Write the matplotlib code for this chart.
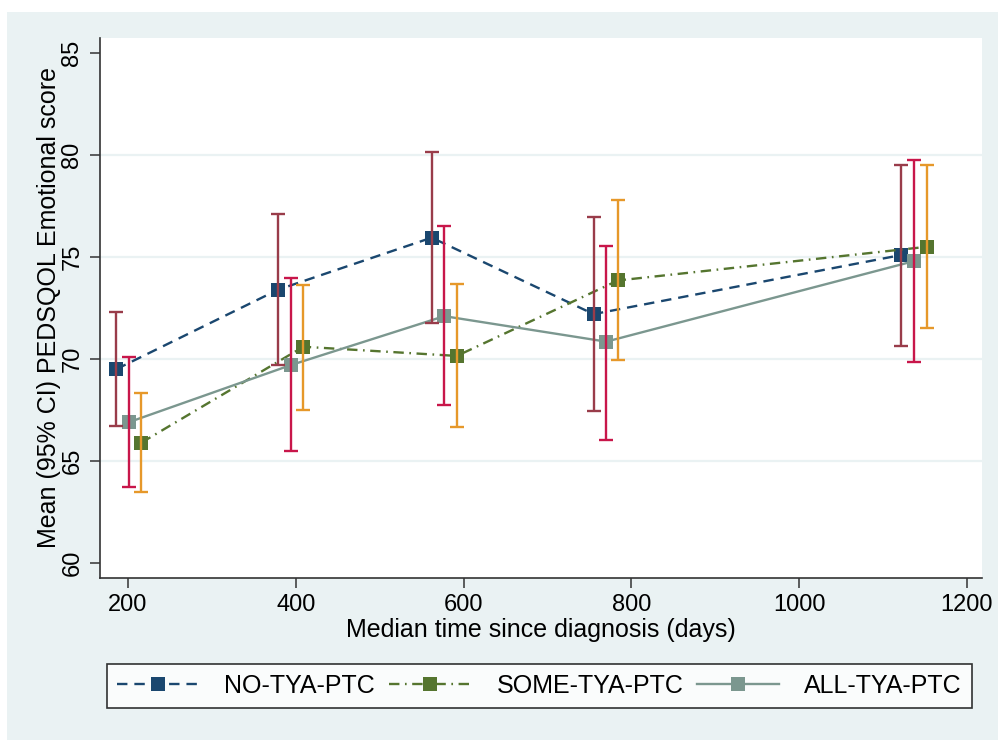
import matplotlib
matplotlib.use("Agg")
import matplotlib.pyplot as plt
from matplotlib.patches import Rectangle

plt.rcParams['font.family'] = ['Liberation Sans', 'DejaVu Sans']
plt.rcParams['lines.scale_dashes'] = False

# median days since diagnosis, mean score and 95% CI per group
no_x = [186, 379, 562, 755, 1122]
no_y = [69.5, 73.4, 75.95, 72.2, 75.1]
no_lo = [66.7, 69.7, 71.75, 67.45, 70.65]
no_hi = [72.3, 77.1, 80.15, 76.95, 79.5]

all_x = [201, 394, 577, 770, 1137]
all_y = [66.9, 69.7, 72.1, 70.85, 74.8]
all_lo = [63.7, 65.5, 67.75, 66.05, 69.85]
all_hi = [70.1, 73.95, 76.5, 75.55, 79.75]

some_x = [216, 409, 592, 784, 1152]
some_y = [65.9, 70.6, 70.15, 73.85, 75.5]
some_lo = [63.5, 67.5, 66.65, 69.95, 71.5]
some_hi = [68.35, 73.65, 73.7, 77.8, 79.5]

x_ticks = [200, 400, 600, 800, 1000, 1200]
y_ticks = [60, 65, 70, 75, 80, 85]

bg = '#eaf2f3'
navy = '#1a476f'
green = '#55752f'
teal = '#7b978f'
maroon = '#993c4a'
cranberry = '#c8164a'
orange = '#e6982a'

fig = plt.figure(figsize=(10.05, 7.4), dpi=100, facecolor='white')
fig.patches.append(Rectangle((7 / 1005, 0), 991 / 1005, 728 / 740,
                             transform=fig.transFigure, facecolor=bg,
                             edgecolor='none', zorder=-10))
ax = fig.add_axes([100 / 1005, 1 - 578 / 740, 882 / 1005, 540 / 740])
ax.set_facecolor('white')

for v in [65, 70, 75, 80]:
    ax.axhline(v, color=bg, lw=1.6, zorder=0)


def err(y, lo, hi):
    return [[a - b for a, b in zip(y, lo)], [b - a for a, b in zip(y, hi)]]


l1, = ax.plot(no_x, no_y, color=navy, lw=1.7, dashes=(7.5, 5),
              marker='s', ms=10, mew=0, zorder=3, label='NO-TYA-PTC')
l2, = ax.plot(some_x, some_y, color=green, lw=1.7, dashes=(7.5, 4, 1.2, 4),
              marker='s', ms=10, mew=0, zorder=3, label='SOME-TYA-PTC')
l3, = ax.plot(all_x, all_y, color=teal, lw=1.7, ls='-',
              marker='s', ms=10, mew=0, zorder=3, label='ALL-TYA-PTC')

for xs, ys, lo, hi, c in [(no_x, no_y, no_lo, no_hi, maroon),
                          (all_x, all_y, all_lo, all_hi, cranberry),
                          (some_x, some_y, some_lo, some_hi, orange)]:
    ax.errorbar(xs, ys, yerr=err(ys, lo, hi), fmt='none', ecolor=c,
                elinewidth=1.7, capsize=4.8, capthick=1.7, zorder=4)

ax.set_xlim(166.6, 1218)
ax.set_ylim(59.26, 85.74)
ax.set_xticks(x_ticks)
ax.set_yticks(y_ticks)
for s in ['top', 'right']:
    ax.spines[s].set_visible(False)
for s in ['left', 'bottom']:
    ax.spines[s].set_color('#333333')
    ax.spines[s].set_linewidth(1.2)
ax.tick_params(axis='both', length=7, width=1.1, color='#333333',
               labelsize=17, labelcolor='black')
ax.tick_params(axis='x', pad=4.5)
ax.tick_params(axis='y', pad=5, labelrotation=90)
for t in ax.get_yticklabels():
    t.set_va('center')

ax.set_xlabel('Median time since diagnosis (days)', fontsize=18)
ax.xaxis.set_label_coords(0.5, -0.074)
ax.set_ylabel('Mean (95% CI) PEDSQOL Emotional score', fontsize=18)
ax.yaxis.set_label_coords(-0.044, 0.5)

leg = fig.legend(handles=[l1, l2, l3], ncol=3, mode='expand',
                 loc='lower left',
                 bbox_to_anchor=(107 / 1005, 1 - 708 / 740, 865 / 1005, 46 / 740),
                 fontsize=18, frameon=True, fancybox=False,
                 handlelength=3.3, handletextpad=1.0, borderaxespad=0,
                 borderpad=0.4, numpoints=1)
leg.get_frame().set_edgecolor('black')
leg.get_frame().set_linewidth(1.2)

fig.savefig('out.png', dpi=100, facecolor=fig.get_facecolor())
